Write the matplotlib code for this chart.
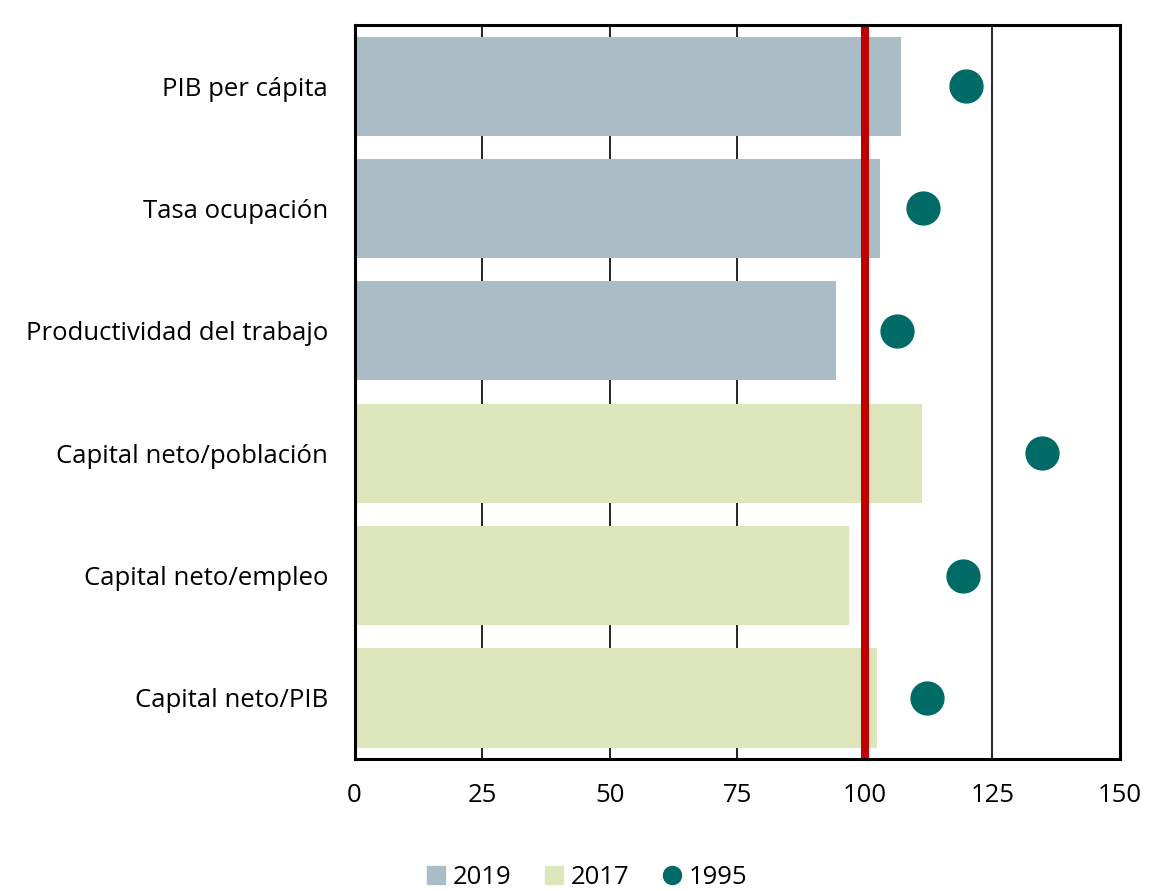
import matplotlib
matplotlib.use("Agg")
from matplotlib import pyplot as plt
from matplotlib.lines import Line2D
from matplotlib.patches import Patch

plt.rcParams['font.family'] = ['Open Sans', 'DejaVu Sans']

categories = ['PIB per cápita', 'Tasa ocupación', 'Productividad del trabajo',
              'Capital neto/población', 'Capital neto/empleo', 'Capital neto/PIB']
bar_values = [107, 103, 94.3, 111.2, 96.9, 102.4]
bar_series = ['2019', '2019', '2019', '2017', '2017', '2017']
dot_values = [119.8, 111.4, 106.3, 134.7, 119.2, 112.2]
xticks = [0, 25, 50, 75, 100, 125, 150]

colors = {'2019': '#AABDC6', '2017': '#DDE6BB'}
dot_color = '#006A66'

fig = plt.figure(figsize=(11.74, 8.91), dpi=100)
ax = fig.add_axes([0.302, 0.148, 0.652, 0.824])

ypos = list(range(len(categories)))
for x in [25, 50, 75, 125]:
    ax.axvline(x, color='black', lw=1.2, zorder=0)
ax.barh(ypos, bar_values, height=0.81,
        color=[colors[s] for s in bar_series], zorder=1)
ax.axvline(100, color='#C00000', lw=5.8, zorder=2)
ax.scatter(dot_values, ypos, s=560, color=dot_color, zorder=3)

ax.set_xlim(0, 150)
ax.set_ylim(len(categories) - 0.5, -0.5)
ax.set_yticks(ypos)
ax.set_yticklabels(categories, fontsize=18.5)
ax.set_xticks(xticks)
ax.set_xticklabels([str(t) for t in xticks], fontsize=18.5)
ax.tick_params(axis='y', length=0, pad=19)
ax.tick_params(axis='x', length=0, pad=17)
for sp in ax.spines.values():
    sp.set_linewidth(2.2)

handles = [Patch(color=colors['2019'], label='2019'),
           Patch(color=colors['2017'], label='2017'),
           Line2D([], [], marker='o', ls='', color=dot_color, markersize=13, label='1995')]
fig.legend(handles=handles, loc='lower center', bbox_to_anchor=(0.5, -0.025), ncol=3,
           frameon=False, fontsize=18.5, handlelength=0.7, handleheight=0.7,
           handletextpad=0.3, columnspacing=1.3)

fig.savefig('out.png', dpi=100)
